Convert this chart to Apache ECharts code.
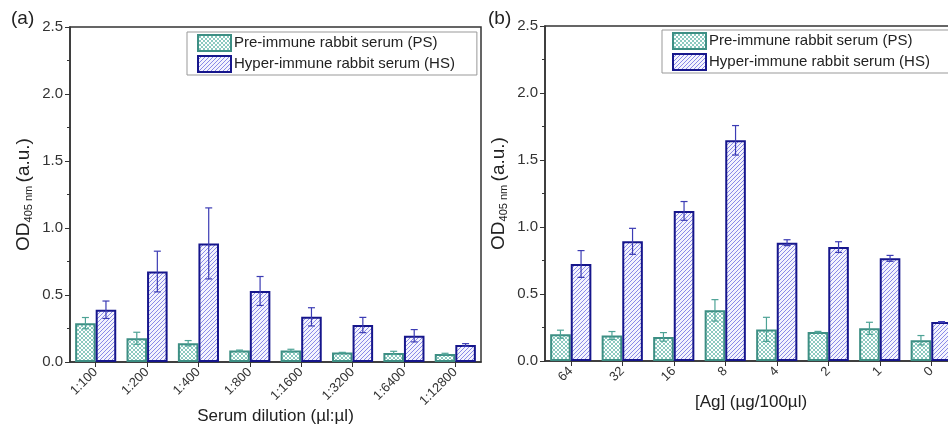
<!DOCTYPE html>
<html>
<head>
<meta charset="utf-8">
<style>
    html, body { margin: 0; padding: 0; background: #fff; }
    #main { width: 948px; height: 425px; }
</style>
<script src="https://cdn.jsdelivr.net/npm/echarts@6/dist/echarts.min.js"></script>
</head>
<body>
<div id="main"></div>
<script>
// 稀释度
const dilutions = ['1:100', '1:200', '1:400', '1:800', '1:1600', '1:3200', '1:6400', '1:12800'];
const psDil = [0.29, 0.177, 0.14, 0.085, 0.085, 0.07, 0.068, 0.06];
const psDilErr = [0.042, 0.045, 0.02, 0.004, 0.01, 0.002, 0.012, 0.005];
const hsDil = [0.39, 0.675, 0.885, 0.53, 0.337, 0.276, 0.196, 0.127];
const hsDilErr = [0.065, 0.152, 0.265, 0.108, 0.068, 0.057, 0.046, 0.01];

// 抗原浓度
const agConc = ['64', '32', '16', '8', '4', '2', '1', '0'];
const psAg = [0.2, 0.19, 0.18, 0.378, 0.236, 0.216, 0.244, 0.155];
const psAgErr = [0.03, 0.03, 0.032, 0.08, 0.09, 0.005, 0.045, 0.035];
const hsAg = [0.724, 0.893, 1.12, 1.647, 0.883, 0.85, 0.766, 0.291];
const hsAgErr = [0.1, 0.097, 0.07, 0.11, 0.022, 0.04, 0.022, 0.003];

const yTicks = [0, 0.5, 1.0, 1.5, 2.0, 2.5];

const font = 'Liberation Sans, Arial, sans-serif';

//填充图案
function makePattern(type, lineColor, bg) {
    let s = 4;
    let c = document.createElement('canvas');
    c.width = s;
    c.height = s;
    let ctx = c.getContext('2d');
    ctx.fillStyle = bg;
    ctx.fillRect(0, 0, s, s);
    ctx.strokeStyle = lineColor;
    ctx.lineWidth = 1;
    ctx.beginPath();
    ctx.moveTo(0, s); ctx.lineTo(s, 0);
    ctx.moveTo(-1, 1); ctx.lineTo(1, -1);
    ctx.moveTo(s - 1, s + 1); ctx.lineTo(s + 1, s - 1);
    if (type === 'cross') {
        ctx.moveTo(0, 0); ctx.lineTo(s, s);
        ctx.moveTo(-1, s - 1); ctx.lineTo(1, s + 1);
        ctx.moveTo(s - 1, -1); ctx.lineTo(s + 1, 1);
    }
    ctx.stroke();
    return { image: c, repeat: 'repeat' };
}

const psFill = makePattern('cross', '#8ccac0', '#ffffff');
const hsFill = makePattern('diag', '#8a8ae8', '#f4f4fd');

const psBorder = '#3d8f84';
const hsBorder = '#16168c';

//误差线
function errRender(offset, color) {
    return function (params, api) {
        let x = api.value(0);
        let lo = api.coord([x, api.value(1)]);
        let hi = api.coord([x, api.value(2)]);
        let band = api.size([1, 0])[0];
        let cx = lo[0] + band * offset;
        let hw = 3.5;
        let style = { stroke: color, lineWidth: 1.2 };
        return {
            type: 'group',
            children: [
                { type: 'line', shape: { x1: cx, y1: lo[1], x2: cx, y2: hi[1] }, style: style },
                { type: 'line', shape: { x1: cx - hw, y1: lo[1], x2: cx + hw, y2: lo[1] }, style: style },
                { type: 'line', shape: { x1: cx - hw, y1: hi[1], x2: cx + hw, y2: hi[1] }, style: style }
            ]
        };
    };
}

function errData(mean, err) {
    return mean.map(function (v, i) {
        return [i, v - err[i], v + err[i]];
    });
}

function makeY(gridIndex) {
    return {
        type: 'value',
        gridIndex: gridIndex,
        min: 0,
        max: 2.5,
        interval: 0.5,
        name: '{a|OD}{b|405 nm} {a|(a.u.)}',
        nameLocation: 'middle',
        nameGap: 36,
        nameTextStyle: {
            rich: {
                a: { fontFamily: font, fontSize: 19, color: '#222' },
                b: { fontFamily: font, fontSize: 11, color: '#222', padding: [9, 0, 0, 0] }
            }
        },
        axisLine: { show: true, lineStyle: { color: '#333', width: 1.5 } },
        axisTick: { show: true, inside: false, length: 5, lineStyle: { color: '#333' } },
        minorTick: { show: true, splitNumber: 2, length: 3, lineStyle: { color: '#333' } },
        splitLine: { show: false },
        axisLabel: {
            fontFamily: font, fontSize: 15, color: '#333', margin: 7,
            formatter: function (v) { return yTicks.indexOf(v) >= 0 ? v.toFixed(1) : ''; }
        }
    };
}

function makeX(gridIndex, cats, name, gap) {
    return {
        type: 'category',
        gridIndex: gridIndex,
        data: cats,
        name: name,
        nameLocation: 'middle',
        nameGap: gap,
        nameMoveOverlap: false,
        nameTextStyle: { fontFamily: font, fontSize: 17, color: '#222' },
        axisLine: { show: true, lineStyle: { color: '#333', width: 1.5 } },
        axisTick: { show: true, alignWithLabel: true, inside: false, length: 5, lineStyle: { color: '#333' } },
        axisLabel: { interval: 0, rotate: 45, fontFamily: font, fontSize: 13, color: '#333', margin: 8 }
    };
}

function barSeries(name, idx, data, fill, border) {
    return {
        name: name,
        type: 'bar',
        xAxisIndex: idx,
        yAxisIndex: idx,
        data: data,
        barGap: '0%',
        barCategoryGap: '20%',
        itemStyle: { color: fill, borderColor: border, borderWidth: 2 },
        emphasis: { disabled: true },
        z: 2
    };
}

function errSeries(idx, mean, err, offset, color) {
    return {
        type: 'custom',
        xAxisIndex: idx,
        yAxisIndex: idx,
        data: errData(mean, err),
        encode: { x: 0, y: [1, 2] },
        renderItem: errRender(offset, color),
        silent: true,
        z: 5
    };
}

const psName = 'Pre-immune rabbit serum (PS)';
const hsName = 'Hyper-immune rabbit serum (HS)';

function makeLegend(left, top) {
    return {
        data: [psName, hsName],
        orient: 'vertical',
        left: left,
        top: top,
        icon: 'rect',
        itemWidth: 33,
        itemHeight: 16,
        itemGap: 3,
        padding: [2, 22, 2, 10],
        borderColor: '#999',
        borderWidth: 1,
        selectedMode: false,
        textStyle: { fontFamily: font, fontSize: 15, color: '#222', padding: [0, 0, 0, -2] }
    };
}

let chart = echarts.init(document.getElementById('main'));

chart.setOption({
    animation: false,
    backgroundColor: '#fff',
    title: [
        { text: '(a)', left: 6, top: 4, textStyle: { fontFamily: font, fontSize: 19, fontWeight: 'normal', color: '#222' } },
        { text: '(b)', left: 483, top: 4, textStyle: { fontFamily: font, fontSize: 19, fontWeight: 'normal', color: '#222' } }
    ],
    legend: [makeLegend(187, 32), makeLegend(662, 30)],
    grid: [
        { left: 70, top: 27, width: 411, height: 335, show: true, borderColor: '#333', borderWidth: 1.5, outerBoundsMode: 'none', containLabel: false },
        { left: 545, top: 26, width: 412, height: 335, show: true, borderColor: '#333', borderWidth: 1.5, outerBoundsMode: 'none', containLabel: false }
    ],
    xAxis: [
        makeX(0, dilutions, 'Serum dilution (µl:µl)', 46),
        makeX(1, agConc, '[Ag] (µg/100µl)', 33)
    ],
    yAxis: [makeY(0), makeY(1)],
    series: [
        barSeries(psName, 0, psDil, psFill, psBorder),
        barSeries(hsName, 0, hsDil, hsFill, hsBorder),
        errSeries(0, psDil, psDilErr, -0.2, '#4ea396'),
        errSeries(0, hsDil, hsDilErr, 0.2, '#3c3cb4'),
        barSeries(psName, 1, psAg, psFill, psBorder),
        barSeries(hsName, 1, hsAg, hsFill, hsBorder),
        errSeries(1, psAg, psAgErr, -0.2, '#4ea396'),
        errSeries(1, hsAg, hsAgErr, 0.2, '#3c3cb4')
    ]
});
</script>
</body>
</html>
